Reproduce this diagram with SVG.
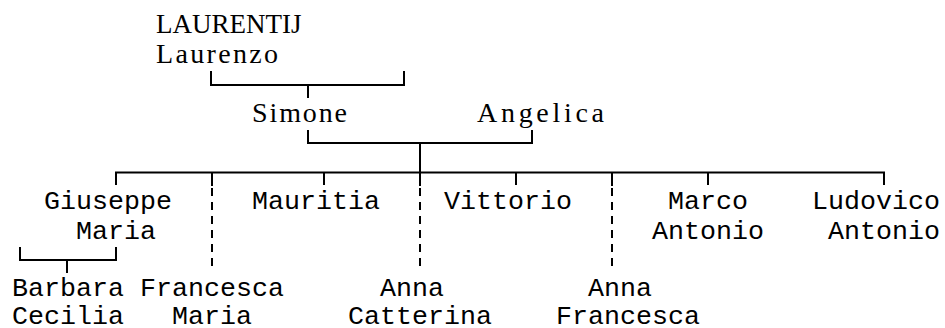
<svg xmlns="http://www.w3.org/2000/svg" width="945" height="328" viewBox="0 0 945 328">
<style>
.s{font-family:"Liberation Serif","Times New Roman",serif;font-size:28px;fill:#000}
.m{font-family:"Liberation Mono","Courier New",monospace;font-size:26.67px;fill:#000}
.c{fill:none;stroke:#000;stroke-width:2}
.d{fill:none;stroke:#000;stroke-width:2;stroke-dasharray:8 6}
</style>
<rect width="945" height="328" fill="#fff"/>
<g id="connectors">
<path class="c" d="M211,71V85H404V71M308,85V98"/>
<path class="c" d="M308,130V143H532V130M420,143V186"/>
<path class="c" d="M116,185V172.5H884V185M212,172.5V186M324,172.5V185M516,172.5V185M612,172.5V186M708,172.5V185"/>
<path class="d" d="M212,188V272M420,188V272M612,188V272"/>
<path class="c" d="M20,247V260H116V247M67,260V273"/>
</g>
<g id="laurentij"><text class="s" x="156" y="33" style="font-size:27px">LAURENTIJ</text><text class="s" x="156" y="63" textLength="122" lengthAdjust="spacing">Laurenzo</text></g>
<g id="simone"><text class="s" x="252" y="122" textLength="95" lengthAdjust="spacing">Simone</text></g>
<g id="angelica"><text class="s" x="477" y="122" textLength="127" lengthAdjust="spacing">Angelica</text></g>
<g id="giuseppe"><text class="m" x="44" y="209">Giuseppe</text><text class="m" x="76" y="239">Maria</text></g>
<g id="mauritia"><text class="m" x="252" y="209">Mauritia</text></g>
<g id="vittorio"><text class="m" x="444" y="209">Vittorio</text></g>
<g id="marco"><text class="m" x="668" y="209">Marco</text><text class="m" x="652" y="239">Antonio</text></g>
<g id="ludovico"><text class="m" x="812" y="209">Ludovico</text><text class="m" x="828" y="239">Antonio</text></g>
<g id="barbara"><text class="m" x="12" y="296">Barbara</text><text class="m" x="12" y="324">Cecilia</text></g>
<g id="francesca"><text class="m" x="140" y="296">Francesca</text><text class="m" x="172" y="324">Maria</text></g>
<g id="anna-catterina"><text class="m" x="380" y="296">Anna</text><text class="m" x="348" y="324">Catterina</text></g>
<g id="anna-francesca"><text class="m" x="588" y="296">Anna</text><text class="m" x="556" y="324">Francesca</text></g>
</svg>
